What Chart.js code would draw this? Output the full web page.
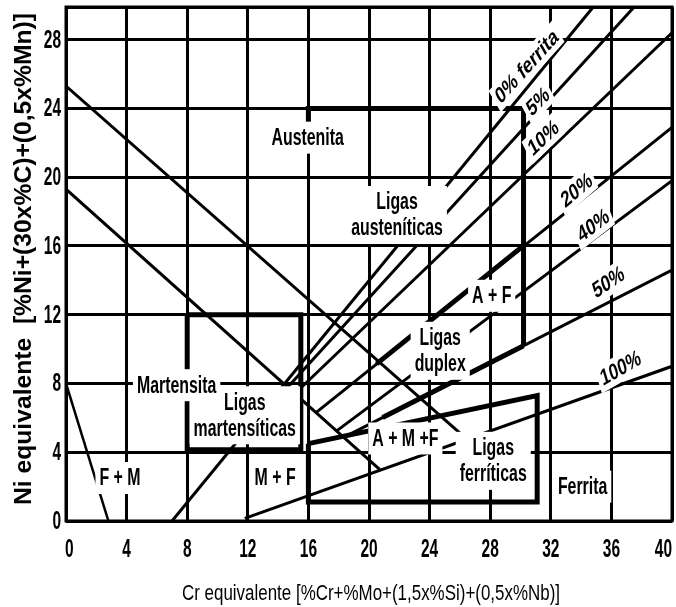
<!DOCTYPE html>
<html>
<head>
<meta charset="utf-8">
<script src="https://cdn.jsdelivr.net/npm/chart.js@4.4.0/dist/chart.umd.min.js"></script>
<style>
  html, body { margin: 0; padding: 0; background: #fff; }
  #c { display: block; }
</style>
</head>
<body>
<canvas id="c" width="676" height="607"></canvas>
<script>
// ---- Axis ticks ----
const xTickValues = [0, 4, 8, 12, 16, 20, 24, 28, 32, 36, 40];
const xTickLabels = ['0', '4', '8', '12', '16', '20', '24', '28', '32', '36', '40'];
const yTickValues = [0, 4, 8, 12, 16, 20, 24, 28];
const yTickLabels = ['0', '4', '8', '12', '16', '20', '24', '28'];
const xTitle = 'Cr equivalente [%Cr+%Mo+(1,5x%Si)+(0,5x%Nb)]';
const yTitle = 'Ni equivalente  [%Ni+(30x%C)+(0,5x%Mn)]';

// ---- Phase boundaries (Cr eq, Ni eq) ----
const martensiteUpper   = [[0, 25.3], [26.4, 4.8]];
const martensiteLower   = [[0, 19.3], [20.7, 3.0]];
const ferriteMartensite = [[0, 8.0], [2.8, 0]];
const ferrite0   = [[7.0, 0], [34.8, 29.9]];
const ferrite5   = [[14.6, 7.75], [37.5, 29.9]];
const ferrite10  = [[15.1, 7.4], [40, 28.4]];
const ferrite20  = [[16.5, 6.3], [40, 22.9]];
const ferrite40  = [[17.8, 5.2], [40, 19.8]];
const ferrite50  = [[18.3, 4.85], [40, 14.6]];
const ferrite100 = [[11.8, 0.15], [40, 9.0]];

// ---- Alloy family outlines ----
const austeniticOutline  = [[16, 23], [16, 24], [30.2, 24], [30.2, 10.2]];
const duplexUpper        = [[20.5, 9.14], [30.2, 16.02]];
const duplexLower        = [[20.9, 6.02], [30.2, 10.2]];
const martensiticOutline = [[8, 12], [15.5, 12], [15.5, 4.15], [8, 4.15], [8, 12]];
const ferriticOutline    = [[16, 4.5], [31.1, 7.3], [31.1, 1.1], [16, 1.1], [16, 4.5]];

// ---- Text ----
const regionLabels = [
  ['Austenita'], ['Ligas', 'austeníticas'], ['A + F'], ['Ligas', 'duplex'],
  ['Martensita'], ['Ligas', 'martensíticas'], ['F + M'], ['M + F'],
  ['A + M +F'], ['Ligas', 'ferríticas'], ['Ferrita']
];
const ferriteLabels = ['0% ferrita', '5%', '10%', '20%', '40%', '50%', '100%'];

// label anchors, in axis units, and caption slopes in degrees
const regionLabelAt = [
  [15.95, 22.3], [21.85, 17.8], [28.1, 13.1], [24.7, 9.9],
  [7.3, 7.9], [11.8, 6.15], [3.56, 2.5], [13.8, 2.5],
  [22.4, 4.8], [28.2, 3.5], [34.1, 2.0]
];
const ferriteLabelAt = [
  [30.4, 26.45], [31.15, 24.4], [31.5, 22.3], [33.7, 19.25],
  [34.8, 17.2], [35.8, 13.9], [36.6, 8.9]
];
const ferriteLabelTilt = [48, 46, 44, 41, 38, 34, 30];

const FONT = "'Liberation Sans', Arial, sans-serif";

function series(points, width) {
  return {
    data: points.map(([x, y]) => ({ x, y })),
    showLine: true,
    borderColor: '#000',
    borderWidth: width,
    pointRadius: 0,
    fill: false,
    tension: 0,
    borderCapStyle: 'butt',
    borderJoinStyle: 'miter'
  };
}

// Sets up a frame centred at px,py; k squeezes glyphs horizontally and
// angle is the on-screen slope of the baseline (radians, canvas orientation).
function enterFrame(ctx, px, py, o) {
  const k = o.k || 1;
  const vis = o.angle || 0;
  ctx.translate(px, py);
  ctx.scale(k, 1);
  ctx.rotate(Math.atan2(k * Math.sin(vis), Math.cos(vis)));
  ctx.font = (o.weight || 'normal') + ' ' + o.size + 'px ' + FONT;
}

function drawBox(ctx, lines, px, py, o) {
  ctx.save();
  enterFrame(ctx, px, py, o);
  const lh = o.lh || o.size * 1.1;
  let w = 0;
  lines.forEach(t => { w = Math.max(w, ctx.measureText(t).width); });
  const h = lines.length * lh;
  ctx.fillStyle = '#fff';
  ctx.fillRect(-w / 2 - o.padX / (o.k || 1), -h / 2 - o.padY, w + 2 * o.padX / (o.k || 1), h + 2 * o.padY);
  ctx.restore();
}

function drawText(ctx, lines, px, py, o) {
  ctx.save();
  enterFrame(ctx, px, py, o);
  const lh = o.lh || o.size * 1.1;
  const h = lines.length * lh;
  ctx.fillStyle = '#000';
  ctx.textAlign = 'center';
  ctx.textBaseline = 'middle';
  lines.forEach((t, i) => ctx.fillText(t, 0, -h / 2 + lh * (i + 0.5) + 1));
  ctx.restore();
}

const regionStyle = { size: 23, weight: 'bold', k: 0.69, lh: 26, padX: 4, padY: 3 };
const captionStyle = { size: 23, weight: 'bold', k: 0.72, padX: 3, padY: 1 };
const tickStyle = { size: 25, weight: 'bold', k: 0.62 };

const annotate = {
  id: 'annotate',
  afterDatasetsDraw(chart) {
    const { ctx, chartArea: a, scales: { x, y } } = chart;

    // plot frame
    ctx.save();
    ctx.strokeStyle = '#000';
    ctx.lineWidth = 3;
    ctx.strokeRect(a.left, a.top, a.right - a.left, a.bottom - a.top);
    ctx.restore();

    const items = [];
    regionLabels.forEach((lines, i) => {
      const [vx, vy] = regionLabelAt[i];
      items.push([lines, x.getPixelForValue(vx), y.getPixelForValue(vy), regionStyle]);
    });
    ferriteLabels.forEach((t, i) => {
      const [vx, vy] = ferriteLabelAt[i];
      const o = Object.assign({}, captionStyle, { angle: -ferriteLabelTilt[i] * Math.PI / 180 });
      items.push([[t], x.getPixelForValue(vx), y.getPixelForValue(vy), o]);
    });
    // white backing first, then all captions on top
    items.forEach(it => drawBox(ctx, ...it));
    items.forEach(it => drawText(ctx, ...it));

    // tick labels
    ctx.save();
    ctx.font = tickStyle.weight + ' ' + tickStyle.size + 'px ' + FONT;
    const tw = t => ctx.measureText(t).width * tickStyle.k;
    const yW = yTickLabels.map(tw);
    const xW = xTickLabels.map(tw);
    ctx.restore();
    yTickValues.forEach((v, i) => {
      drawText(ctx, [yTickLabels[i]], 61 - yW[i] / 2, y.getPixelForValue(v), tickStyle);
    });
    xTickValues.forEach((v, i) => {
      let cx = x.getPixelForValue(v);
      cx = Math.max(a.left + xW[i] / 2 - 1, Math.min(a.right - xW[i] / 2, cx));
      drawText(ctx, [xTickLabels[i]], cx, a.bottom + 28, tickStyle);
    });

    // axis titles
    drawText(ctx, [xTitle], (a.left + a.right) / 2 + 2, 593, { size: 22, k: 0.77 });

    ctx.save();
    ctx.font = 'bold 24px ' + FONT;
    const len = ctx.measureText(yTitle).width;
    ctx.translate(23, 259);
    ctx.rotate(-Math.PI / 2);
    ctx.scale(492 / len, 1);
    ctx.fillStyle = '#000';
    ctx.textAlign = 'center';
    ctx.textBaseline = 'middle';
    ctx.fillText(yTitle, 0, 1);
    ctx.restore();
  }
};

new Chart(document.getElementById('c'), {
  type: 'scatter',
  data: {
    datasets: [
      series(martensiteUpper, 3),
      series(martensiteLower, 3),
      series(ferriteMartensite, 2.5),
      series(ferrite0, 3),
      series(ferrite5, 3),
      series(ferrite10, 3),
      series(ferrite20, 3),
      series(ferrite40, 3),
      series(ferrite50, 3),
      series(ferrite100, 3),
      series(austeniticOutline, 5),
      series(duplexUpper, 5),
      series(duplexLower, 5),
      series(martensiticOutline, 5),
      series(ferriticOutline, 5)
    ]
  },
  options: {
    responsive: false,
    animation: false,
    layout: { padding: { left: 66, right: 4, top: 7, bottom: 86 } },
    plugins: { legend: { display: false }, tooltip: { enabled: false } },
    scales: {
      x: {
        type: 'linear', min: 0, max: 40,
        ticks: { display: false, stepSize: 4 },
        grid: { color: '#000', lineWidth: 3, drawTicks: false },
        border: { display: false }
      },
      y: {
        type: 'linear', min: 0, max: 29.9,
        ticks: { display: false, stepSize: 4 },
        grid: { color: '#000', lineWidth: 3, drawTicks: false },
        border: { display: false }
      }
    }
  },
  plugins: [annotate]
});
</script>
</body>
</html>
